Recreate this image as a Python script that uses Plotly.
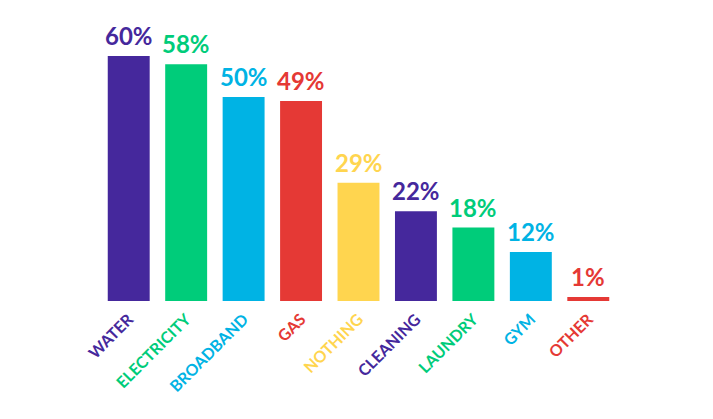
import plotly.graph_objects as go

categories = ["WATER", "ELECTRICITY", "BROADBAND", "GAS", "NOTHING",
              "CLEANING", "LAUNDRY", "GYM", "OTHER"]
values = [60, 58, 50, 49, 29, 22, 18, 12, 1]
colors = ["#45289C", "#00CC7A", "#00B3E4", "#E53935", "#FFD54F",
          "#45289C", "#00CC7A", "#00B3E4", "#E53935"]

fig = go.Figure(go.Bar(
    x=categories, y=values,
    marker=dict(color=colors, line=dict(width=0)),
    hoverinfo="skip",
))

for c, v, col in zip(categories, values, colors):
    fig.add_annotation(x=c, y=v, text=f"{v}%", showarrow=False,
                       yanchor="bottom", yshift=4,
                       font=dict(family="Lato", size=24, color=col, weight="bold"))

ticktext = [f'<span style="color:{col}">{c}</span>' for c, col in zip(categories, colors)]

fig.update_layout(
    width=713, height=419,
    margin=dict(l=92, r=104, t=22, b=126),
    paper_bgcolor="white", plot_bgcolor="white",
    bargap=0.27,
    showlegend=False,
    font=dict(family="Lato"),
    xaxis=dict(tickmode="array", tickvals=categories, ticktext=ticktext,
               tickangle=-45, showgrid=False, showline=False, zeroline=False,
               ticks="", ticklabelstandoff=5, automargin=False,
               tickfont=dict(family="Lato", size=16, weight="bold")),
    yaxis=dict(range=[0, 66.4], visible=False, showgrid=False, zeroline=False),
)

fig.write_html("out.html")
